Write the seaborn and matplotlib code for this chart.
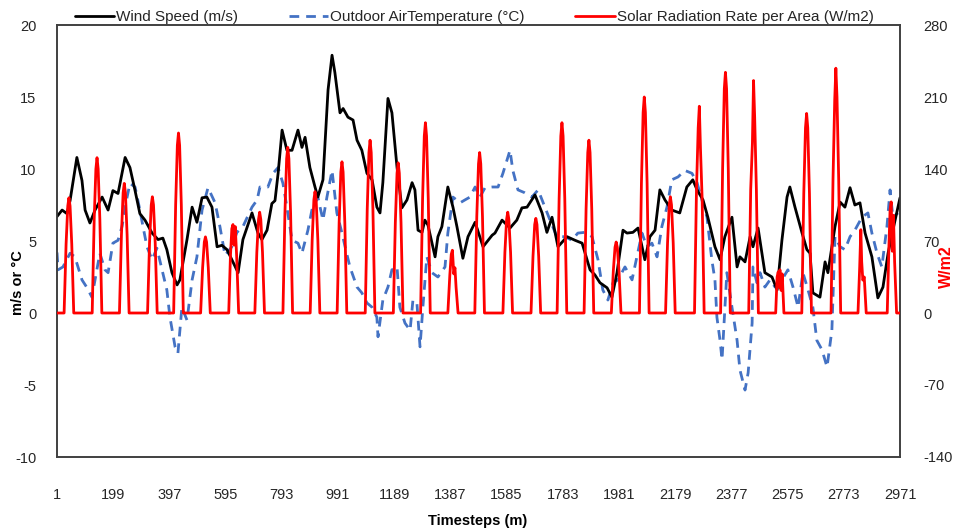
import matplotlib
matplotlib.use("Agg")
import matplotlib.pyplot as plt
import pandas as pd
import seaborn as sns
from matplotlib.lines import Line2D

# ---------------- data ----------------
wind_step = [1, 19, 36, 47, 71, 89, 100, 117, 135, 160, 181, 198, 216, 241, 258, 276, 293, 311,
             336, 357, 374, 388, 406, 424, 434, 459, 477, 494, 512, 529, 547, 565, 582, 600,
             617, 639, 656, 688, 709, 723, 741, 758, 769, 780, 794, 811, 829, 850, 864, 875,
             892, 910, 920, 938, 956, 970, 980, 998, 1009, 1026, 1044, 1058, 1075, 1093, 1111,
             1128, 1139, 1149, 1167, 1181, 1199, 1216, 1234, 1252, 1262, 1273, 1287, 1297, 1308,
             1333, 1343, 1357, 1378, 1396, 1410, 1431, 1449, 1474, 1502, 1534, 1544, 1569, 1597,
             1621, 1639, 1657, 1685, 1710, 1727, 1745, 1766, 1798, 1826, 1851, 1879, 1896, 1914,
             1939, 1956, 1974, 1995, 2009, 2030, 2048, 2072, 2090, 2108, 2125, 2143, 2167, 2195,
             2220, 2241, 2256, 2277, 2294, 2319, 2337, 2354, 2379, 2397, 2407, 2425, 2443, 2453,
             2471, 2495, 2520, 2538, 2555, 2573, 2583, 2601, 2626, 2643, 2654, 2664, 2689, 2707,
             2717, 2742, 2760, 2777, 2795, 2812, 2830, 2848, 2872, 2893, 2911, 2929, 2946, 2971]
wind_ms = [6.7, 7.15, 6.9, 7.8, 10.8, 9.2, 7.15, 6.25, 7.15, 8.05, 7.15, 8.5, 8.3, 10.8, 10.1, 8.5,
           6.9, 6.45, 5.55, 5.1, 5.2, 4.4, 2.8, 1.95, 2.3, 5.1, 7.35, 6.3, 8.0, 8.05, 7.35, 4.6,
           4.7, 4.4, 3.7, 2.8, 5.1, 6.95, 5.55, 5.1, 5.75, 7.6, 7.8, 9.7, 12.7, 11.3, 11.3, 12.7,
           11.5, 12.2, 10.1, 8.75, 8.05, 9.25, 15.5, 17.9, 16.7, 13.9, 14.2, 13.6, 13.4, 12.0,
           11.3, 9.7, 9.25, 7.35, 6.95, 9.05, 14.9, 13.9, 10.1, 7.3, 7.85, 9.05, 8.55, 5.75, 5.6,
           6.45, 6.1, 3.9, 5.3, 6.0, 8.75, 7.35, 6.0, 3.8, 5.3, 6.3, 4.6, 5.4, 5.55, 6.45, 5.9,
           6.45, 7.3, 7.35, 8.2, 6.95, 5.6, 6.65, 4.6, 5.3, 5.05, 4.85, 3.0, 2.65, 2.1, 1.75, 1.1,
           2.8, 5.75, 5.55, 5.6, 5.9, 3.7, 5.3, 5.75, 8.55, 7.85, 7.15, 6.95, 8.75, 9.25, 8.55,
           7.85, 6.65, 4.6, 3.7, 5.3, 6.65, 3.2, 3.9, 3.55, 5.3, 4.6, 5.9, 2.8, 2.5, 1.6, 5.05,
           8.05, 8.75, 7.35, 5.55, 4.4, 4.15, 1.4, 1.1, 3.55, 2.8, 6.0, 7.7, 7.35, 8.7, 7.5, 7.65,
           5.55, 3.9, 1.05, 1.8, 4.15, 5.75, 8.0]

temp_step = [1, 5, 22, 47, 64, 89, 107, 124, 135, 152, 170, 181, 198, 216, 230, 248, 258, 276, 293,
             304, 318, 336, 353, 371, 388, 399, 417, 427, 441, 459, 477, 494, 512, 533, 558, 575,
             593, 617, 635, 656, 688, 706, 716, 744, 762, 780, 797, 811, 829, 850, 864, 885, 899,
             920, 938, 952, 970, 987, 1005, 1016, 1033, 1058, 1075, 1093, 1111, 1128, 1132, 1149,
             1167, 1181, 1199, 1209, 1227, 1245, 1255, 1269, 1280, 1290, 1304, 1322, 1343, 1368,
             1378, 1396, 1421, 1438, 1456, 1474, 1491, 1509, 1534, 1555, 1572, 1597, 1607, 1625,
             1649, 1674, 1696, 1720, 1738, 1762, 1791, 1815, 1836, 1861, 1886, 1907, 1924, 1942,
             1960, 1977, 2002, 2027, 2044, 2062, 2079, 2097, 2115, 2132, 2150, 2167, 2189, 2213,
             2238, 2256, 2273, 2291, 2308, 2319, 2326, 2337, 2344, 2361, 2379, 2397, 2407, 2425,
             2436, 2450, 2453, 2467, 2478, 2495, 2513, 2531, 2555, 2576, 2594, 2612, 2629, 2647,
             2664, 2678, 2696, 2714, 2731, 2742, 2760, 2777, 2795, 2812, 2837, 2858, 2872, 2890,
             2907, 2925, 2936, 2946, 2964]
temp_c = [4.2, 3.0, 3.2, 4.15, 3.9, 2.3, 1.75, 1.1, 2.3, 4.15, 3.0, 2.8, 4.85, 5.05, 6.0, 8.05, 9.0,
          8.75, 7.15, 6.0, 4.6, 3.7, 4.5, 3.0, 1.6, -0.3, -2.35, -2.8, 0.4, -0.5, 2.3, 3.9, 7.15,
          8.7, 7.65, 6.0, 4.0, 4.6, 5.6, 6.0, 7.35, 7.85, 8.75, 8.75, 9.7, 10.1, 9.0, 7.35, 5.05,
          4.85, 4.15, 5.75, 7.15, 8.05, 6.45, 8.05, 9.9, 6.95, 5.55, 4.6, 3.2, 1.8, 1.4, 0.7, 0.4,
          -0.3, -1.65, 0.9, 1.8, 3.0, 3.2, 0.4, -0.7, -1.2, 0.9, 0.7, -2.35, 0.4, 3.9, 2.8, 2.5,
          3.2, 5.55, 8.05, 7.65, 7.85, 8.05, 8.75, 8.05, 8.7, 8.75, 8.75, 9.7, 11.3, 9.9, 8.55,
          8.35, 8.05, 8.55, 7.35, 6.45, 5.3, 5.3, 5.05, 5.55, 5.6, 5.3, 3.7, 1.6, 0.9, 2.1, 2.3,
          3.2, 2.3, 3.9, 5.55, 4.6, 4.85, 3.9, 6.0, 7.35, 9.25, 9.45, 9.9, 9.7, 9.05, 7.85, 6.65,
          3.7, 2.3, -0.3, -1.9, -3.25, 2.8, 0.4, -1.9, -3.95, -5.35, -4.15, -0.7, 3.2, 2.1, 2.8,
          1.8, 2.3, 1.8, 2.3, 3.0, 1.8, 0.4, 2.8, 1.6, 0.4, -1.9, -2.55, -3.75, -1.2, 5.3, 4.6,
          4.4, 5.3, 5.75, 6.65, 6.95, 5.55, 4.15, 3.2, 6.0, 8.55, 6.65, 6.95]

solar_step = [1,
              26, 33, 39, 43, 47, 53, 60,
              125, 132, 138, 142, 146, 152, 159,
              221, 228, 234, 238, 242, 248, 255,
              320, 327, 333, 337, 341, 347, 354,
              412, 419, 425, 429, 433, 439, 446,
              507, 514, 520, 524, 528, 534, 541,
              606, 612, 617, 621, 625, 629, 634, 641,
              698, 705, 711, 715, 719, 725, 732,
              797, 804, 810, 814, 818, 824, 831,
              893, 900, 906, 910, 914, 920, 927,
              988, 995, 1001, 1005, 1009, 1015, 1022,
              1087, 1094, 1100, 1104, 1108, 1114, 1121,
              1186, 1193, 1199, 1203, 1207, 1213, 1220,
              1282, 1289, 1295, 1299, 1303, 1309, 1316,
              1378, 1385, 1390, 1394, 1399, 1403, 1407, 1414,
              1473, 1480, 1486, 1490, 1494, 1500, 1507,
              1572, 1579, 1585, 1589, 1593, 1599, 1606,
              1671, 1678, 1684, 1688, 1692, 1698, 1705,
              1763, 1770, 1776, 1780, 1784, 1790, 1797,
              1858, 1865, 1871, 1875, 1879, 1885, 1892,
              1954, 1961, 1967, 1971, 1975, 1981, 1988,
              2053, 2060, 2066, 2070, 2074, 2080, 2087,
              2145, 2152, 2158, 2162, 2166, 2172, 2179,
              2247, 2254, 2260, 2264, 2268, 2274, 2281,
              2339, 2346, 2352, 2356, 2360, 2366, 2373,
              2438, 2445, 2451, 2455, 2459, 2465, 2472,
              2533, 2538, 2542, 2545, 2548, 2552, 2556, 2562,
              2625, 2632, 2638, 2642, 2646, 2652, 2659,
              2728, 2735, 2741, 2745, 2749, 2755, 2762,
              2823, 2829, 2833, 2836, 2840, 2845, 2852,
              2926, 2932, 2936, 2940, 2944, 2948, 2952, 2959,
              2971]
solar_wm2 = [0,
             0, 67, 104, 112, 104, 67, 0,
             0, 91, 140, 151, 140, 91, 0,
             0, 76, 117, 126, 117, 76, 0,
             0, 68, 105, 113, 105, 68, 0,
             0, 105, 163, 175, 163, 105, 0,
             0, 44, 69, 74, 69, 44, 0,
             0, 55, 82, 86, 66, 84, 55, 0,
             0, 59, 91, 98, 91, 59, 0,
             0, 97, 150, 161, 150, 97, 0,
             0, 71, 110, 118, 110, 71, 0,
             0, 88, 137, 147, 137, 88, 0,
             0, 101, 156, 168, 156, 101, 0,
             0, 88, 136, 146, 136, 88, 0,
             0, 111, 172, 185, 172, 111, 0,
             0, 37, 57, 61, 38, 44, 25, 0,
             0, 94, 145, 156, 145, 94, 0,
             0, 59, 91, 98, 91, 59, 0,
             0, 55, 86, 92, 86, 55, 0,
             0, 111, 172, 185, 172, 111, 0,
             0, 101, 156, 168, 156, 101, 0,
             0, 41, 64, 69, 64, 41, 0,
             0, 126, 195, 210, 195, 126, 0,
             0, 68, 105, 113, 105, 68, 0,
             0, 120, 180, 201, 160, 110, 0,
             0, 140, 218, 234, 218, 140, 0,
             0, 120, 165, 226, 190, 120, 0,
             0, 35, 40, 25, 42, 22, 38, 0,
             0, 116, 180, 194, 180, 116, 0,
             0, 130, 207, 238, 210, 130, 0,
             0, 45, 81, 50, 32, 35, 0,
             0, 65, 100, 108, 60, 95, 50, 0,
             0]

x_ticks = [1, 199, 397, 595, 793, 991, 1189, 1387, 1585, 1783, 1981, 2179, 2377, 2575, 2773, 2971]
left_ticks = [-10, -5, 0, 5, 10, 15, 20]
right_ticks = [-140, -70, 0, 70, 140, 210, 280]

series_names = ["Wind Speed (m/s)", "Outdoor AirTemperature (\u00b0C)",
                "Solar Radiation Rate per Area (W/m2)"]

# ---------------- styling ----------------
sns.set_theme(style="white")
plt.rcParams['font.family'] = ['Liberation Sans Narrow', 'Liberation Sans', 'DejaVu Sans']

BLACK = "#000000"
BLUE = "#4472C4"
RED = "#FF0000"
SPINE = "#404040"
TXT = "#262626"

wind_df = pd.DataFrame({"step": wind_step, "value": wind_ms})
temp_df = pd.DataFrame({"step": temp_step, "value": temp_c})
solar_df = pd.DataFrame({"step": solar_step, "value": solar_wm2})

W, H = 955, 532
fig = plt.figure(figsize=(W / 100, H / 100), dpi=100)
L, R, T, B = 57, 900, 25, 457
ax = fig.add_axes([L / W, 1 - B / H, (R - L) / W, (B - T) / H])

sns.lineplot(data=temp_df, x="step", y="value", ax=ax, color=BLUE, linewidth=2.0,
             linestyle=(0, (3.5, 2.5)), sort=False, estimator=None, zorder=2)
sns.lineplot(data=wind_df, x="step", y="value", ax=ax, color=BLACK, linewidth=2.0,
             sort=False, estimator=None, zorder=3)

ax2 = ax.twinx()
sns.lineplot(data=solar_df, x="step", y="value", ax=ax2, color=RED, linewidth=2.0,
             sort=False, estimator=None, zorder=4)

ax.set_xlim(1, 2971)
ax.set_ylim(-10, 20)
ax2.set_ylim(-140, 280)
ax.set_xticks(x_ticks)
ax.set_xticklabels([str(t) for t in x_ticks])
ax.set_yticks(left_ticks)
ax.set_yticklabels([str(t) for t in left_ticks])
ax2.set_yticks(right_ticks)
ax2.set_yticklabels([str(t) for t in right_ticks])

for a in (ax, ax2):
    a.set_xlabel("")
    a.set_ylabel("")
    a.grid(False)
    for s in a.spines.values():
        s.set_color(SPINE)
        s.set_linewidth(1.2)
        s.set_visible(True)

ax.tick_params(axis="x", length=0, pad=22, labelsize=10.5, labelcolor=TXT)
ax.tick_params(axis="y", length=0, pad=15, labelsize=10.5, labelcolor=TXT)
ax2.tick_params(axis="y", length=0, pad=17, labelsize=10.5, labelcolor=TXT)

fig.text(478 / W, 1 - 521 / H, "Timesteps (m)", ha="center", va="center",
         fontsize=10.5, fontweight="bold", color=BLACK)
fig.text(18 / W, 1 - 283 / H, "m/s or \u00b0C", ha="center", va="center", rotation=90,
         fontsize=10.5, fontweight="bold", color=BLACK)
fig.text(946 / W, 1 - 267 / H, "W/m2", ha="center", va="center", rotation=90,
         fontsize=11.5, fontweight="bold", color=RED)

handles = [Line2D([], [], color=BLACK, lw=2),
           Line2D([], [], color=BLUE, lw=2, linestyle=(0, (3.5, 2.5))),
           Line2D([], [], color=RED, lw=2)]
fig.legend(handles, series_names, loc="center", bbox_to_anchor=(474 / W, 1 - 17 / H),
           ncol=3, frameon=False, fontsize=11, handlelength=2.6, handletextpad=0.12,
           columnspacing=3.3, labelcolor=TXT)

fig.savefig("out.png", dpi=100)
